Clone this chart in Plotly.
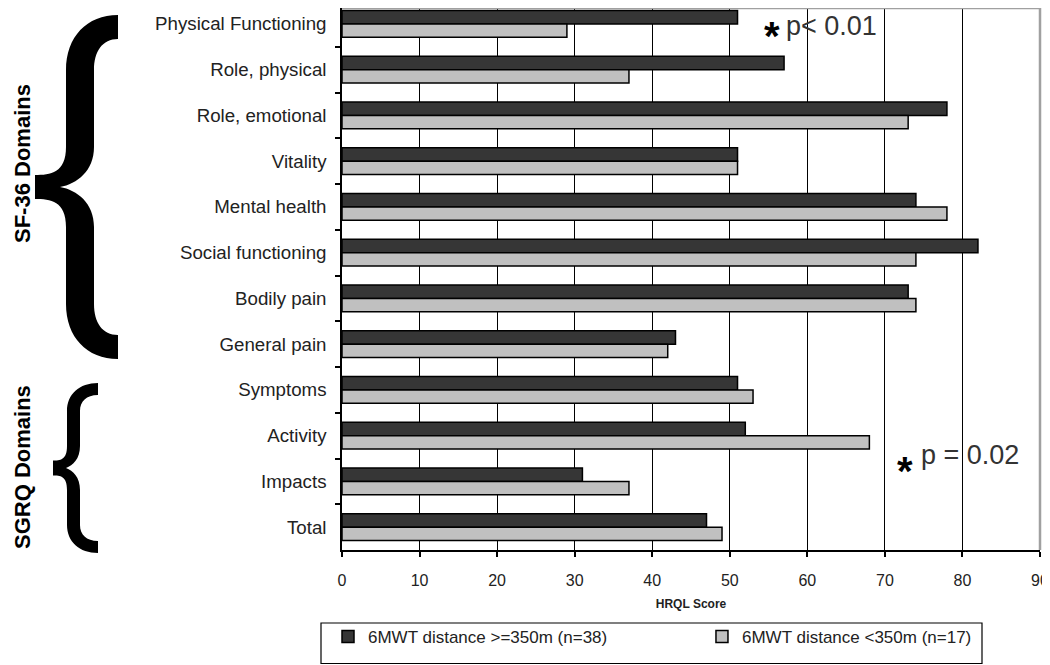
import plotly.graph_objects as go

# ---------------- data ----------------
categories = ["Physical Functioning", "Role, physical", "Role, emotional", "Vitality",
              "Mental health", "Social functioning", "Bodily pain", "General pain",
              "Symptoms", "Activity", "Impacts", "Total"]
ge350 = [51, 57, 78, 51, 74, 82, 73, 43, 51, 52, 31, 47]
lt350 = [29, 37, 73, 51, 78, 74, 74, 42, 53, 68, 37, 49]
series_names = ["6MWT distance >=350m (n=38)", "6MWT distance <350m (n=17)"]
x_ticks = [0, 10, 20, 30, 40, 50, 60, 70, 80, 90]
x_title = "HRQL Score"
group_labels = ["SF-36 Domains", "SGRQ Domains"]
p_labels = ["p< 0.01", "p = 0.02"]

# ---------------- geometry ----------------
OFF = 8                      # page body margin of the written html
W, H = 1042, 657             # so that the figure ends exactly at the 1050x665 window edge
REF_L, REF_R, REF_T, REF_B = 342.5, 1040, 1, 550   # plot area in the reference picture
ML = int(REF_L - OFF)
MR = W - int(REF_R - OFF)
MT = 0
MB = H - int(REF_B - OFF)
PW, PH = W - ML - MR, H - MT - MB
ROW = (REF_B - REF_T) / len(categories)
TOPCUT = (OFF + MT - REF_T) / ROW
FONT = "Liberation Sans, Arial, sans-serif"


def px(X):
    return (X - OFF - ML) / PW


def py(Y):
    return 1 - (Y - OFF - MT) / PH


def brace_path(xe, xo, xi, xt, xn, ys, ye, t, r, r2, th):
    yc = (ys + ye) / 2

    def P(x, y):
        return f"{px(x):.5f},{py(y):.5f}"

    d = f"M{P(xe, ys)}"
    d += f" C{P(xo + (xe - xo) * 0.4, ys)} {P(xo, ys + r * 0.4)} {P(xo, ys + r)}"
    d += f" L{P(xo, yc - r2)}"
    d += f" C{P(xo, yc - r2 * 0.35)} {P((xo + xt) / 2, yc - th / 2)} {P(xt, yc - th / 2)}"
    d += f" L{P(xt, yc + th / 2)}"
    d += f" C{P((xo + xt) / 2, yc + th / 2)} {P(xo, yc + r2 * 0.35)} {P(xo, yc + r2)}"
    d += f" L{P(xo, ye - r)}"
    d += f" C{P(xo, ye - r * 0.4)} {P(xo + (xe - xo) * 0.4, ye)} {P(xe, ye)}"
    d += f" L{P(xe, ye - t)}"
    d += f" C{P(xi + (xe - xi) * 0.35, ye - t)} {P(xi, ye - t - (r - t) * 0.4)} {P(xi, ye - r)}"
    d += f" L{P(xi, yc + r2)}"
    d += f" C{P(xi, yc + r2 * 0.4)} {P((xi + xn) / 2, yc + 3)} {P(xn, yc)}"
    d += f" C{P((xi + xn) / 2, yc - 3)} {P(xi, yc - r2 * 0.4)} {P(xi, yc - r2)}"
    d += f" L{P(xi, ys + r)}"
    d += f" C{P(xi, ys + t + (r - t) * 0.4)} {P(xi + (xe - xi) * 0.35, ys + t)} {P(xe, ys + t)}"
    d += " Z"
    return d


NBSP = "\u00a0"
fig = go.Figure()
fig.add_trace(go.Bar(
    y=categories, x=ge350, orientation="h", name=series_names[0] + NBSP * 19,
    marker=dict(color="#363636", line=dict(color="black", width=1.5)),
))
fig.add_trace(go.Bar(
    y=categories, x=lt350, orientation="h", name=series_names[1],
    marker=dict(color="#c0c0c0", line=dict(color="black", width=1.5)),
))

shapes = [
    # grey plot-area border (top and right)
    dict(type="line", xref="paper", yref="paper", x0=0, x1=1, y0=1, y1=1,
         line=dict(color="#a0a0a0", width=2.5), layer="above"),
    dict(type="line", xref="paper", yref="paper", x0=1, x1=1, y0=0, y1=1,
         line=dict(color="#a0a0a0", width=2.5), layer="above"),
    # braces
    dict(type="path", xref="paper", yref="paper",
         path=brace_path(118, 66, 94, 35, 60, 15, 359, 24, 55, 40, 24),
         fillcolor="black", line=dict(width=0)),
    dict(type="path", xref="paper", yref="paper",
         path=brace_path(98, 67, 80, 53, 66, 383, 553, 12, 28, 22, 15),
         fillcolor="black", line=dict(width=0)),
    # legend frame
    dict(type="rect", xref="paper", yref="paper", x0=px(321), x1=px(982), y0=py(623), y1=py(663.5),
         line=dict(color="black", width=1.2), fillcolor="rgba(0,0,0,0)"),
]

annotations = [
    dict(text=f"<b>{group_labels[0]}</b>", x=px(22), y=py(164), xref="paper", yref="paper",
         textangle=-90, showarrow=False, font=dict(size=22, color="black", family=FONT),
         xanchor="center", yanchor="middle"),
    dict(text=f"<b>{group_labels[1]}</b>", x=px(22), y=py(467), xref="paper", yref="paper",
         textangle=-90, showarrow=False, font=dict(size=22, color="black", family=FONT),
         xanchor="center", yanchor="middle"),
    dict(text=p_labels[0], x=px(784), y=py(26), xref="paper", yref="paper", showarrow=False,
         font=dict(size=27, color="#333333", family=FONT), xanchor="left", yanchor="middle"),
    dict(text="<b>*</b>", x=px(771.5), y=py(29), xref="paper", yref="paper", showarrow=False,
         font=dict(size=40, color="black", family=FONT), xanchor="center", yanchor="middle",
         yshift=-6.5),
    dict(text=p_labels[1], x=px(919), y=py(455), xref="paper", yref="paper", showarrow=False,
         font=dict(size=27, color="#333333", family=FONT), xanchor="left", yanchor="middle"),
    dict(text="<b>*</b>", x=px(904.5), y=py(464), xref="paper", yref="paper", showarrow=False,
         font=dict(size=40, color="black", family=FONT), xanchor="center", yanchor="middle",
         yshift=-6.5),
]

fig.update_layout(
    width=W, height=H,
    margin=dict(l=ML, r=MR, t=MT, b=MB, pad=0, autoexpand=False),
    paper_bgcolor="white", plot_bgcolor="white",
    barmode="group", bargap=0.42, bargroupgap=0,
    font=dict(family=FONT, color="#222222"),
    showlegend=True,
    legend=dict(orientation="h", x=px(328), y=py(619), xanchor="left", yanchor="top",
                borderwidth=0, bgcolor="rgba(0,0,0,0)",
                font=dict(size=17, color="#222222", family=FONT),
                traceorder="normal"),
    shapes=shapes,
    annotations=annotations,
    xaxis=dict(range=[0, 90], tickvals=x_ticks, ticks="outside", ticklen=5,
               tickcolor="black", tickwidth=1.5, showline=True, linecolor="black", linewidth=1.5,
               showgrid=True, gridcolor="black", gridwidth=1.2, zeroline=False,
               tickfont=dict(size=16, color="#222222", family=FONT), ticklabelstandoff=10,
               title=dict(text=f"<b>{x_title}</b>", font=dict(size=12, color="#222222", family=FONT),
                          standoff=12),
               fixedrange=True),
    yaxis=dict(type="category", range=[len(categories) - 0.5, -0.5 + TOPCUT],
               tickson="boundaries", ticks="outside",
               ticklen=5, tickcolor="black", tickwidth=1.5, showline=True, linecolor="black",
               linewidth=1.5, showgrid=False, tickfont=dict(size=18.7, color="#222222", family=FONT),
               ticklabelstandoff=10, fixedrange=True),
)

fig.write_html("out.html")
